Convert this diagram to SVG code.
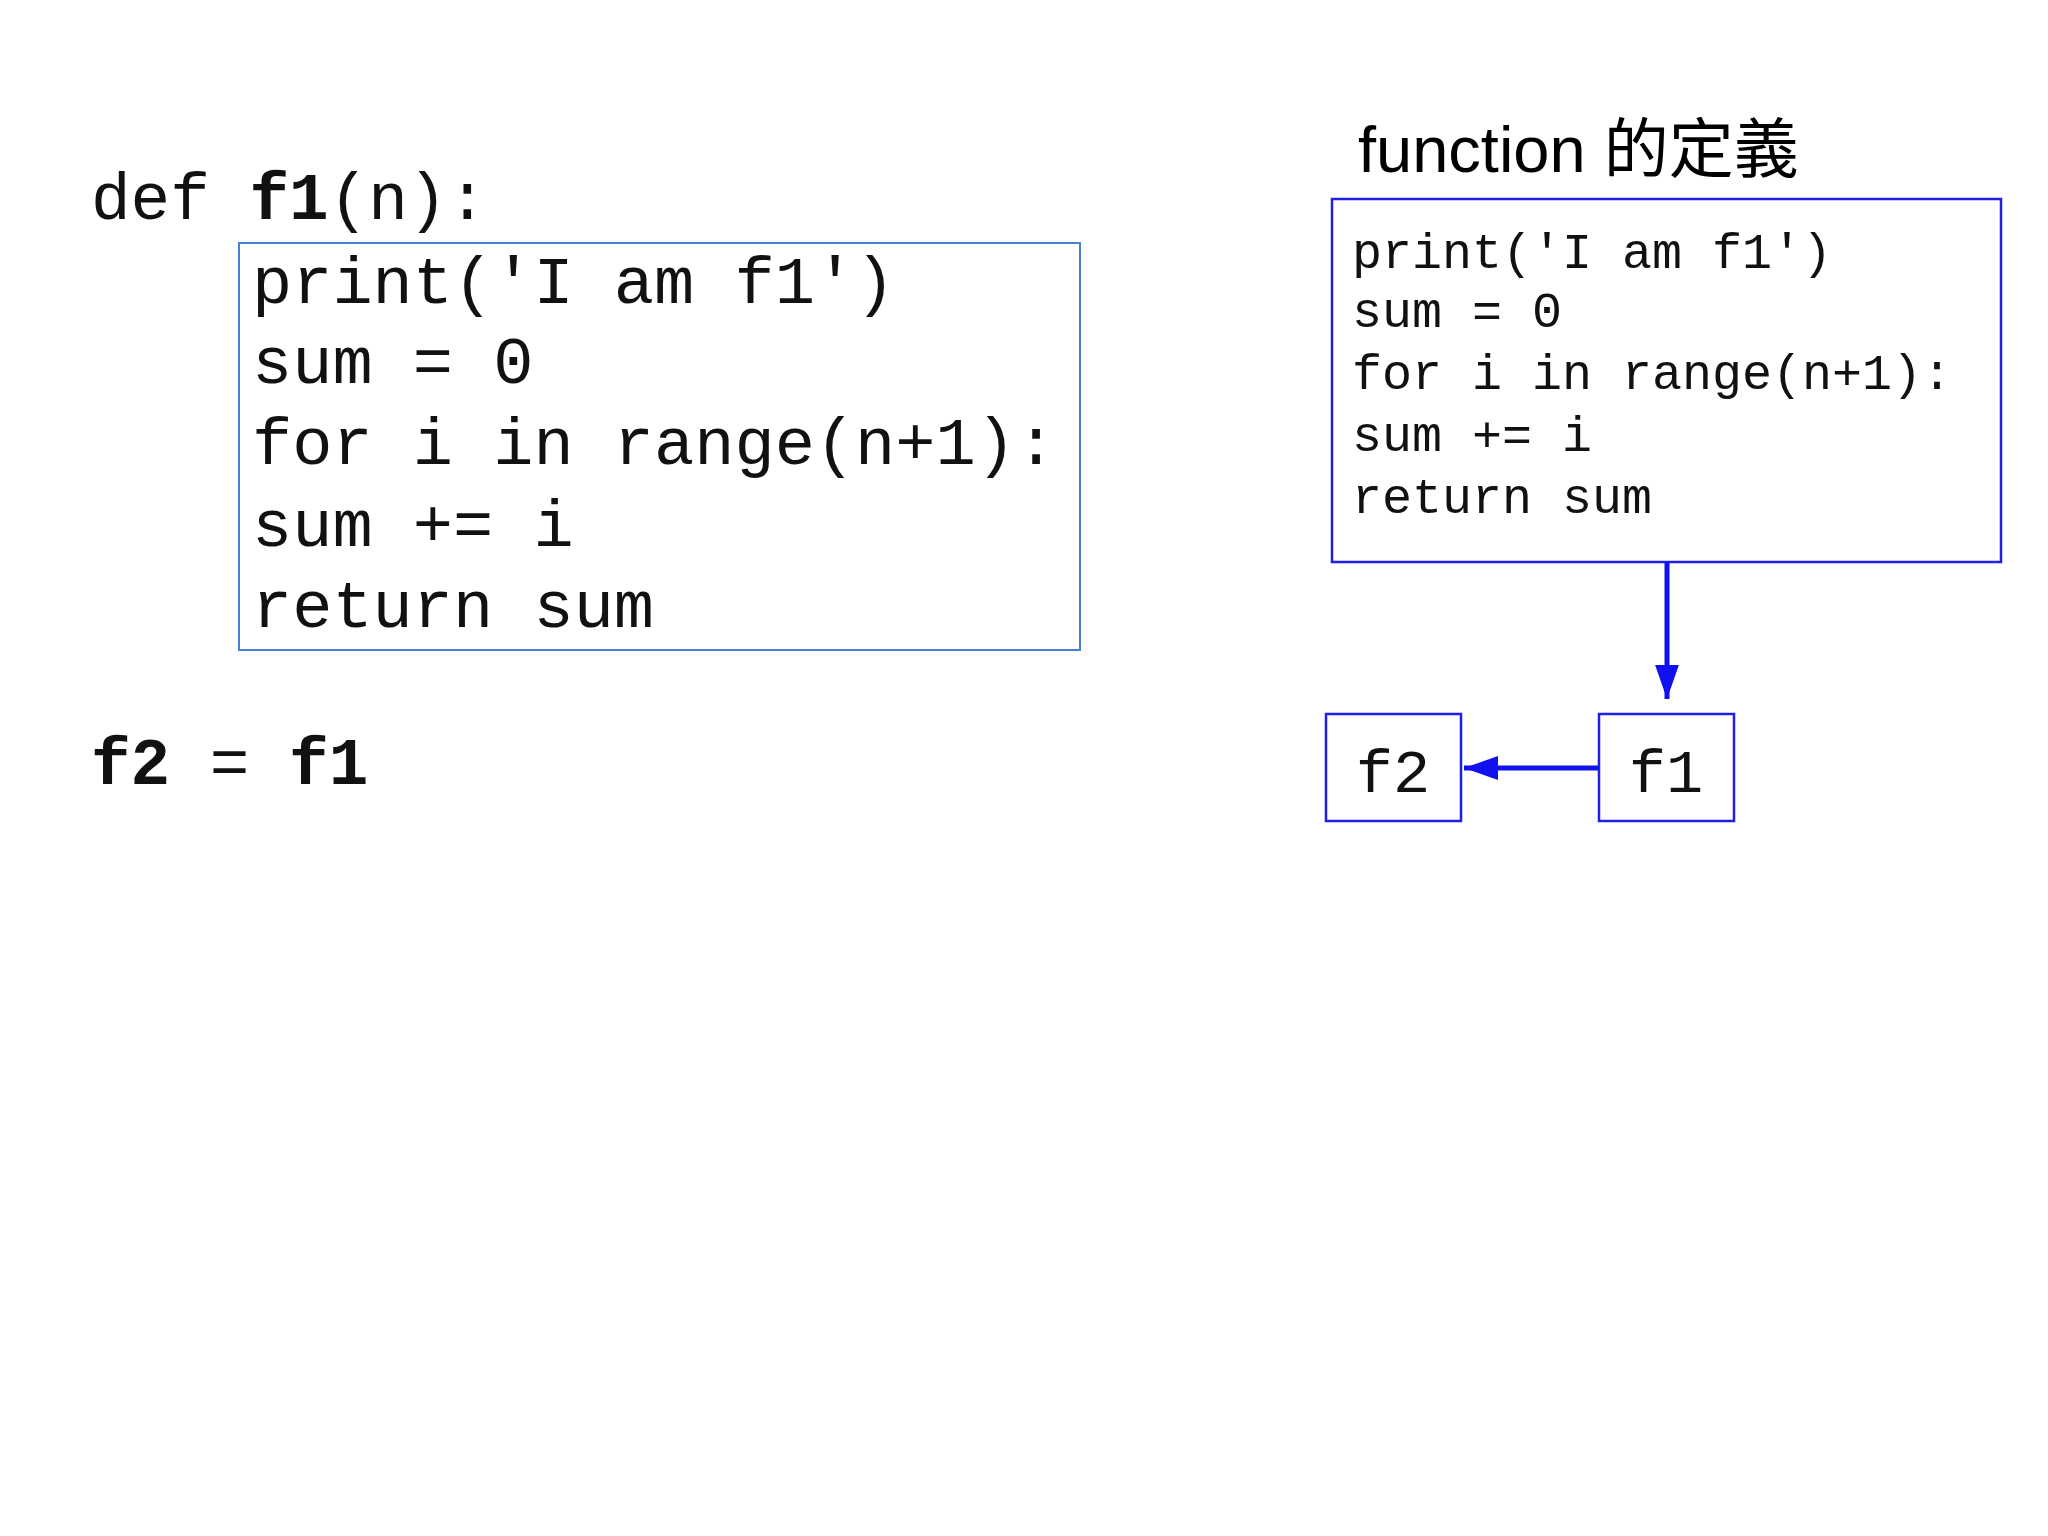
<svg xmlns="http://www.w3.org/2000/svg" width="2048" height="1536" viewBox="0 0 2048 1536">
<style>
.m{font-family:"Liberation Mono","DejaVu Sans Mono",monospace;fill:#111}
.b{font-weight:bold}
.box{fill:none;stroke:#1f1fe6;stroke-width:2.5}
.c{stroke:#1010f0;stroke-width:5;fill:none}
</style>
<defs><marker id="a" markerWidth="8" markerHeight="8" refX="7" refY="4" orient="auto" markerUnits="userSpaceOnUse" viewBox="0 0 8 8"><path d="M0,0L8,4L0,8z" fill="#1010f0"/></marker>
<marker id="ah" viewBox="0 0 10 10" refX="10" refY="5" markerWidth="34" markerHeight="34" markerUnits="userSpaceOnUse" orient="auto"><path d="M0,1.5L10,5L0,8.5z" fill="#1010f0"/></marker></defs>
<rect width="2048" height="1536" fill="#fff"/>
<g id="left-code">
<text class="m" x="91" y="219" font-size="66">def <tspan class="b">f1</tspan>(n):</text>
<rect x="239" y="243" width="841" height="407" fill="none" stroke="#4a7fd8" stroke-width="2"/>
<g class="m" font-size="67">
<text x="252" y="303">print('I am f1')</text>
<text x="252" y="383">sum = 0</text>
<text x="252" y="464">for i in range(n+1):</text>
<text x="252" y="546">    sum += i</text>
<text x="252" y="627">return sum</text>
</g>
<text class="m" x="91" y="784" font-size="66"><tspan class="b">f2</tspan> = <tspan class="b">f1</tspan></text>
</g>
<g id="def-node">
<text x="1358" y="172" font-size="65" font-family="'Liberation Sans','Noto Sans CJK TC',sans-serif" fill="#000">function 的定義</text>
<rect class="box" x="1332" y="199" width="669" height="363"/>
<g class="m" font-size="50">
<text x="1352" y="268">print('I am f1')</text>
<text x="1352" y="327">sum = 0</text>
<text x="1352" y="389">for i in range(n+1):</text>
<text x="1352" y="451">    sum += i</text>
<text x="1352" y="513">return sum</text>
</g>
</g>
<g id="f1-node"><rect class="box" x="1599" y="714" width="135" height="107"/><text class="m" x="1666" y="792" font-size="62" text-anchor="middle">f1</text></g>
<g id="f2-node"><rect class="box" x="1326" y="714" width="135" height="107"/><text class="m" x="1393" y="792" font-size="62" text-anchor="middle">f2</text></g>
<g id="connectors">
<line class="c" x1="1667" y1="562" x2="1667" y2="699" marker-end="url(#ah)"/>
<line class="c" x1="1599" y1="768" x2="1464" y2="768" marker-end="url(#ah)"/>
</g>
</svg>
